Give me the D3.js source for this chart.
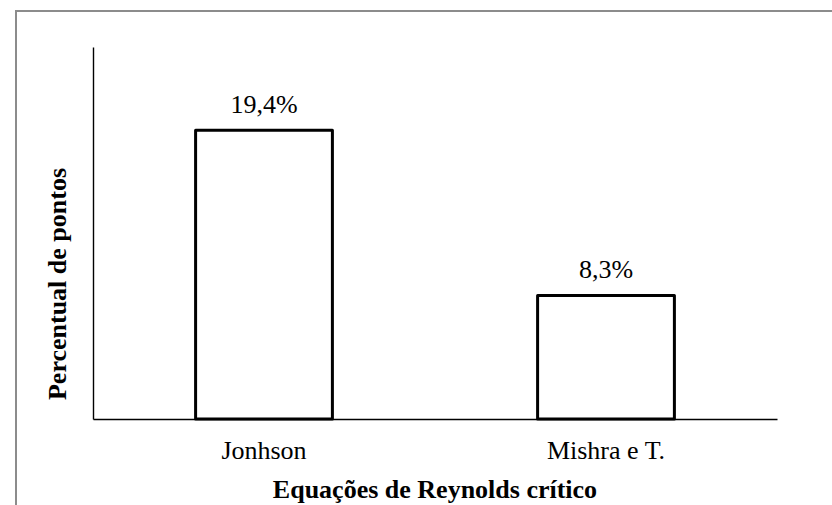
<!DOCTYPE html>
<html>
<head>
<meta charset="utf-8">
<script src="https://cdn.jsdelivr.net/npm/d3@7"></script>
<style>
  html, body { margin: 0; padding: 0; background: #fff; }
  svg { display: block; }
</style>
</head>
<body>
<svg id="chart" width="832" height="505"></svg>
<script>
const categories = ["Jonhson", "Mishra e T."];
const values = [19.4, 8.3];
const valueLabels = ["19,4%", "8,3%"];
const yTitle = "Percentual de pontos";
const xTitle = "Equações de Reynolds crítico";

(function () {
const svg = d3.select("#chart");
const font = "'Liberation Serif', 'Times New Roman', Times, serif";

// outer frame
svg.append("rect")
  .attr("x", 16).attr("y", 11)
  .attr("width", 840).attr("height", 520)
  .attr("fill", "#fff")
  .attr("stroke", "#8c8c8c")
  .attr("stroke-width", 2);

const mLeft = 93, mRight = 777, mTop = 47, mBottom = 419;

const x = d3.scaleBand()
  .domain(categories)
  .range([mLeft, mRight])
  .paddingInner(0.6)
  .paddingOuter(0.3);

const y = d3.scaleLinear()
  .domain([0, 25])
  .range([mBottom, mTop]);

// y axis (line only)
const yAxis = svg.append("g")
  .attr("transform", `translate(${mLeft},0)`)
  .call(d3.axisLeft(y).ticks(0).tickSizeOuter(0));
yAxis.select(".domain").attr("stroke", "#000").attr("stroke-width", 1.4);
yAxis.selectAll(".tick").remove();

// x axis
const xAxis = svg.append("g")
  .attr("transform", `translate(0,${mBottom})`)
  .call(d3.axisBottom(x).tickSize(0).tickSizeOuter(0))
  .attr("font-family", null);
xAxis.select(".domain").attr("stroke", "#000").attr("stroke-width", 1.4);
xAxis.selectAll(".tick text")
  .attr("y", 40).attr("dy", 0)
  .style("font-family", font)
  .style("font-size", "26px")
  .attr("fill", "#000");

// bars
const data = categories.map((c, i) => ({ c, v: values[i], label: valueLabels[i] }));
svg.append("g").selectAll("rect")
  .data(data)
  .join("rect")
  .attr("x", d => x(d.c))
  .attr("y", d => y(d.v))
  .attr("width", x.bandwidth())
  .attr("height", d => y(0) - y(d.v))
  .attr("fill", "#fff")
  .attr("stroke", "#000")
  .attr("stroke-width", 3)
  .attr("stroke-linejoin", "round");

// value labels
svg.append("g").selectAll("text")
  .data(data)
  .join("text")
  .attr("x", d => x(d.c) + x.bandwidth() / 2)
  .attr("y", d => y(d.v) - 17)
  .attr("text-anchor", "middle")
  .style("font-family", font)
  .style("font-size", "26px")
  .attr("fill", "#000")
  .text(d => d.label);

// axis titles
svg.append("text")
  .attr("x", (mLeft + mRight) / 2)
  .attr("y", 498)
  .attr("text-anchor", "middle")
  .style("font-family", font)
  .style("font-size", "26px")
  .style("font-weight", "bold")
  .attr("fill", "#000")
  .text(xTitle);

svg.append("text")
  .attr("transform", "translate(66,284) rotate(-90)")
  .attr("text-anchor", "middle")
  .style("font-family", font)
  .style("font-size", "26px")
  .style("font-weight", "bold")
  .attr("fill", "#000")
  .text(yTitle);
})();
</script>
</body>
</html>
